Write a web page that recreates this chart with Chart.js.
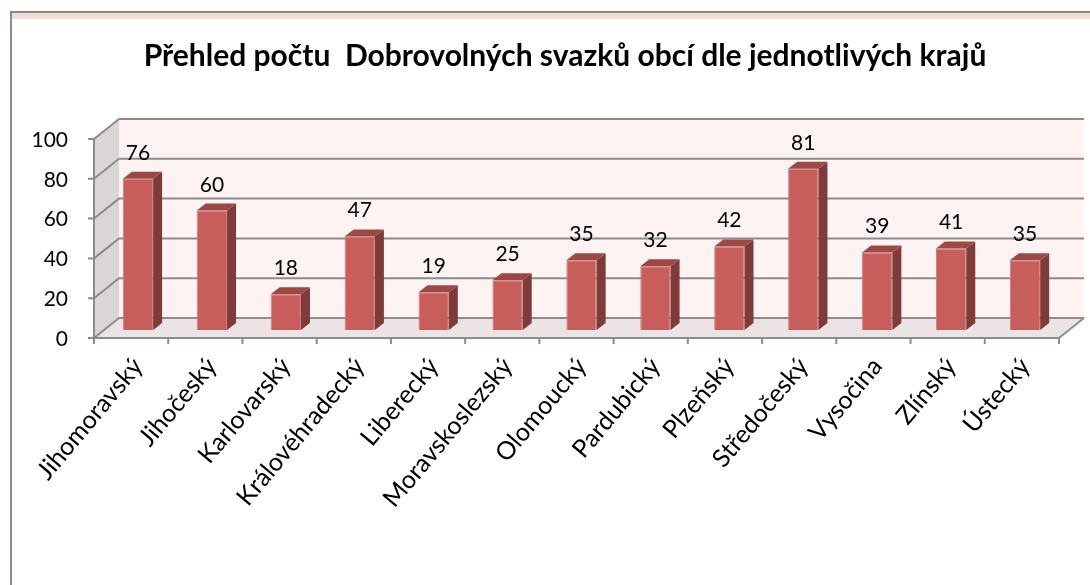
<!DOCTYPE html>
<html>
<head>
<meta charset="utf-8">
<script src="https://cdn.jsdelivr.net/npm/chart.js@4"></script>
<style>
  html, body { margin: 0; padding: 0; background: #fff; }
  #wrap { width: 1090px; height: 585px; }
</style>
</head>
<body>
<div id="wrap"><canvas id="krajeChart" width="1090" height="585"></canvas></div>
<script>
// DATA
const categories = ['Jihomoravský', 'Jihočeský', 'Karlovarský', 'Královéhradecký', 'Liberecký',
  'Moravskoslezský', 'Olomoucký', 'Pardubický', 'Plzeňský', 'Středočeský', 'Vysočina', 'Zlínský', 'Ústecký'];
const counts = [76, 60, 18, 47, 19, 25, 35, 32, 42, 81, 39, 41, 35];
const yTicks = [0, 20, 40, 60, 80, 100];
const titleText = 'Přehled počtu  Dobrovolných svazků obcí dle jednotlivých krajů';

// 3D look (pseudo depth)
const FRONT_DX = -7, FRONT_DY = 8;   // front plane vs bar plane
const WALL_DX = 25, WALL_DY = -20;   // back wall vs front plane
const BAR_DX = 9, BAR_DY = -7;       // bar depth
const gridColor = '#8c8c8c';
const fontFamily = 'Lato, "Open Sans", sans-serif';

const frame3d = {
  id: 'frame3d',
  beforeDraw(chart) {
    const ctx = chart.ctx;
    ctx.save();
    ctx.fillStyle = '#ffffff';
    ctx.fillRect(0, 0, chart.width, chart.height);
    ctx.fillStyle = '#f2dddc';
    ctx.fillRect(12, 13, chart.width - 12, 6);
    ctx.strokeStyle = '#8a8a8a';
    ctx.lineWidth = 2;
    ctx.beginPath();
    ctx.moveTo(11, chart.height);
    ctx.lineTo(11, 12);
    ctx.lineTo(chart.width, 12);
    ctx.stroke();
    ctx.restore();
  },
  beforeDatasetsDraw(chart) {
    const ctx = chart.ctx, xs = chart.scales.x, ys = chart.scales.y;
    const fx0 = xs.left + FRONT_DX, fx1 = xs.right - 3;
    const fy = v => ys.getPixelForValue(v) + FRONT_DY;
    const top = yTicks[yTicks.length - 1];
    ctx.save();
    // back wall
    ctx.fillStyle = '#fdf3f3';
    ctx.fillRect(fx0 + WALL_DX, fy(top) + WALL_DY, fx1 - fx0, fy(0) - fy(top));
    // left wall
    ctx.fillStyle = '#dbd6d6';
    ctx.beginPath();
    ctx.moveTo(fx0, fy(top));
    ctx.lineTo(fx0 + WALL_DX, fy(top) + WALL_DY);
    ctx.lineTo(fx0 + WALL_DX, fy(0) + WALL_DY);
    ctx.lineTo(fx0, fy(0));
    ctx.closePath();
    ctx.fill();
    // floor
    ctx.fillStyle = '#ece4e4';
    ctx.beginPath();
    ctx.moveTo(fx0, fy(0));
    ctx.lineTo(fx1, fy(0));
    ctx.lineTo(fx1 + WALL_DX, fy(0) + WALL_DY);
    ctx.lineTo(fx0 + WALL_DX, fy(0) + WALL_DY);
    ctx.closePath();
    ctx.fill();
    // grid lines + y tick labels on the front axis
    ctx.strokeStyle = gridColor;
    ctx.lineWidth = 2;
    ctx.font = '21px ' + fontFamily;
    ctx.textAlign = 'right';
    ctx.textBaseline = 'middle';
    yTicks.forEach(v => {
      const y = fy(v);
      ctx.beginPath();
      ctx.moveTo(fx0 - 6, y);
      ctx.lineTo(fx0, y);
      ctx.lineTo(fx0 + WALL_DX, y + WALL_DY);
      ctx.lineTo(fx1 + WALL_DX, y + WALL_DY);
      ctx.stroke();
      ctx.fillStyle = '#000';
      ctx.fillText(String(v), fx0 - 26, y + 1);
    });
    // floor right edge
    ctx.beginPath();
    ctx.moveTo(fx1, fy(0));
    ctx.lineTo(fx1 + WALL_DX, fy(0) + WALL_DY);
    ctx.stroke();
    // front axes
    ctx.beginPath();
    ctx.moveTo(fx0, fy(top));
    ctx.lineTo(fx0, fy(0));
    ctx.lineTo(fx1, fy(0));
    ctx.stroke();
    const step = (fx1 - fx0) / categories.length;
    for (let k = 0; k <= categories.length; k++) {
      const x = fx0 + k * step;
      ctx.beginPath();
      ctx.moveTo(x, fy(0));
      ctx.lineTo(x, fy(0) + 6);
      ctx.stroke();
    }
    ctx.restore();
  },
  afterDatasetsDraw(chart) {
    const ctx = chart.ctx;
    const meta = chart.getDatasetMeta(0);
    ctx.save();
    meta.data.forEach((bar, i) => {
      const p = bar.getProps(['x', 'y', 'base', 'width'], true);
      const l = p.x - p.width / 2, r = p.x + p.width / 2;
      // side face
      ctx.fillStyle = '#7f3b3a';
      ctx.beginPath();
      ctx.moveTo(r, p.y);
      ctx.lineTo(r + BAR_DX, p.y + BAR_DY);
      ctx.lineTo(r + BAR_DX, p.base + BAR_DY);
      ctx.lineTo(r, p.base);
      ctx.closePath();
      ctx.fill();
      // top face
      ctx.fillStyle = '#9d4845';
      ctx.beginPath();
      ctx.moveTo(l, p.y);
      ctx.lineTo(l + BAR_DX, p.y + BAR_DY);
      ctx.lineTo(r + BAR_DX, p.y + BAR_DY);
      ctx.lineTo(r, p.y);
      ctx.closePath();
      ctx.fill();
      // value label
      ctx.fillStyle = '#000';
      ctx.font = '21px ' + fontFamily;
      ctx.textAlign = 'center';
      ctx.textBaseline = 'alphabetic';
      ctx.fillText(String(counts[i]), p.x, p.y - 19);
    });
    ctx.restore();
  }
};

const config = {
  type: 'bar',
  data: {
    labels: categories,
    datasets: [{
      label: 'Počet DSO',
      data: counts,
      backgroundColor: '#c75e5c',
      borderColor: '#d47a78',
      borderWidth: 1,
      barPercentage: 0.41,
      categoryPercentage: 1.0
    }]
  },
  options: {
    responsive: false,
    devicePixelRatio: 1,
    animation: false,
    layout: { padding: { top: 20, left: 68, right: 28, bottom: 0 } },
    plugins: {
      legend: { display: false },
      tooltip: { enabled: false },
      title: {
        display: true,
        text: titleText,
        color: '#000',
        font: { family: fontFamily, size: 30, weight: 'bold' },
        padding: { top: 18, bottom: 57 }
      }
    },
    scales: {
      x: {
        grid: { display: false, drawTicks: false },
        border: { display: false },
        ticks: {
          color: '#000',
          font: { family: fontFamily, size: 25 },
          minRotation: 50,
          maxRotation: 50,
          autoSkip: false,
          padding: 22
        },
        afterFit(scale) { scale.height = 255; }
      },
      y: {
        min: 0,
        max: 100,
        grid: { display: false, drawTicks: false },
        border: { display: false },
        ticks: { display: false, stepSize: 20 },
        afterFit(scale) { scale.width = 33; }
      }
    }
  },
  plugins: [frame3d]
};

const krajeChart = new Chart(document.getElementById('krajeChart'), config);
</script>
</body>
</html>
